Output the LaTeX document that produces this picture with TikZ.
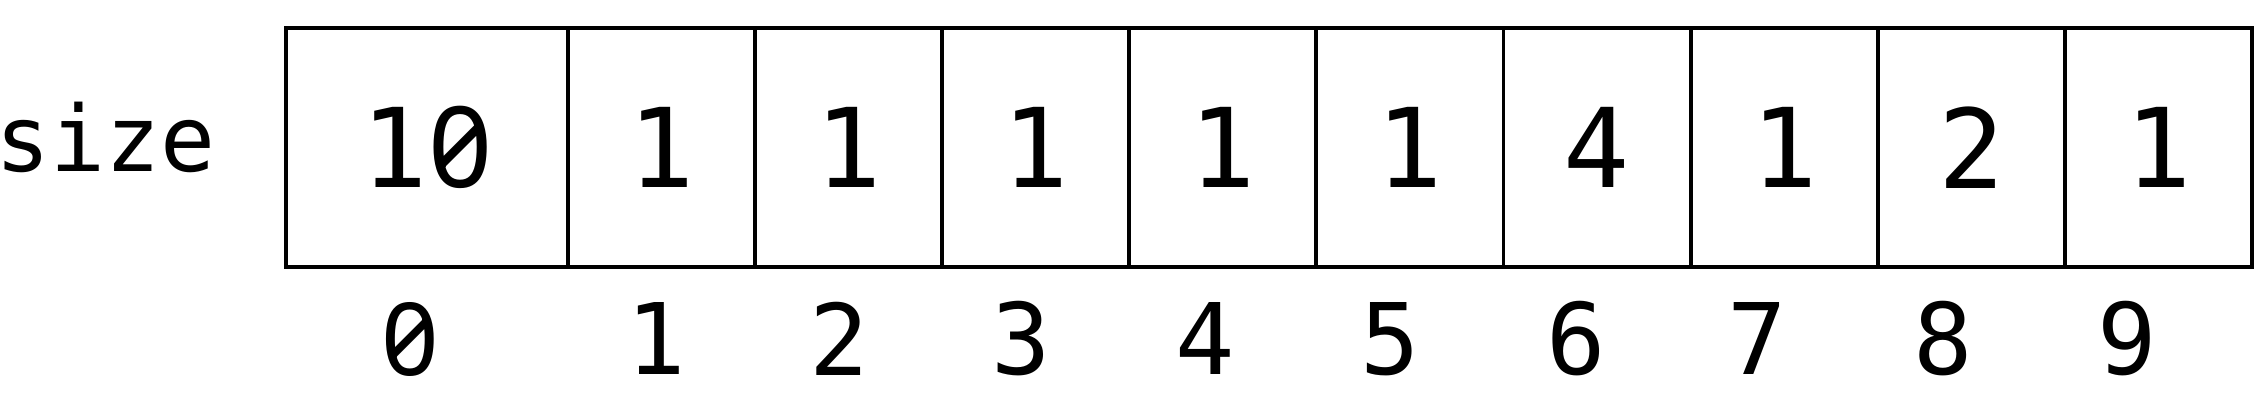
\documentclass[tikz,border=0pt]{standalone}
\usepackage{fontspec}
\usepackage{tikz}
\usetikzlibrary{positioning}
\newfontfamily\cellfont{DejaVu Sans Mono}
\newfontfamily\zerofont[RawFeature=+zero, Scale=1.02]{Noto Sans}
\newcommand\slzero{{\zerofont 0}}

\begin{document}
\begin{tikzpicture}[
  cell/.style={draw=black, line width=1.1pt, outer sep=0pt, minimum width=1.871cm, minimum height=2.395cm, inner sep=0pt, font=\cellfont\fontsize{31.3}{36}\selectfont},
  index/.style={font=\cellfont\fontsize{28.1}{33}\selectfont, inner sep=0pt},
  rowlabel/.style={font=\cellfont\fontsize{26}{30}\selectfont, inner sep=0pt}
]
  \useasboundingbox (0, 0) rectangle (22.68, 4.02);

  % Row label
  \node[rowlabel, anchor=base] (size) at (1.06, 2.30) {size};

  % Cells
  \node[cell, minimum width=2.82cm] (c0) at (4.27, 2.545) {1\slzero};
  \node[cell, right=0pt of c0] (c1) {1};
  \node[cell, right=0pt of c1] (c2) {1};
  \node[cell, right=0pt of c2] (c3) {1};
  \node[cell, right=0pt of c3] (c4) {1};
  \node[cell, right=0pt of c4] (c5) {1};
  \node[cell, right=0pt of c5] (c6) {4};
  \node[cell, right=0pt of c6] (c7) {1};
  \node[cell, right=0pt of c7] (c8) {2};
  \node[cell, right=0pt of c8] (c9) {1};

  % Indices
  \node[index] (idx0) at (4.10, 0.63) {\slzero};
  \foreach \x [count=\i from 1] in {6.56, 8.39, 10.21, 12.05, 13.90, 15.76, 17.57, 19.43, 21.27}
    \node[index] (idx\i) at (\x, 0.63) {\i};
\end{tikzpicture}
\end{document}
